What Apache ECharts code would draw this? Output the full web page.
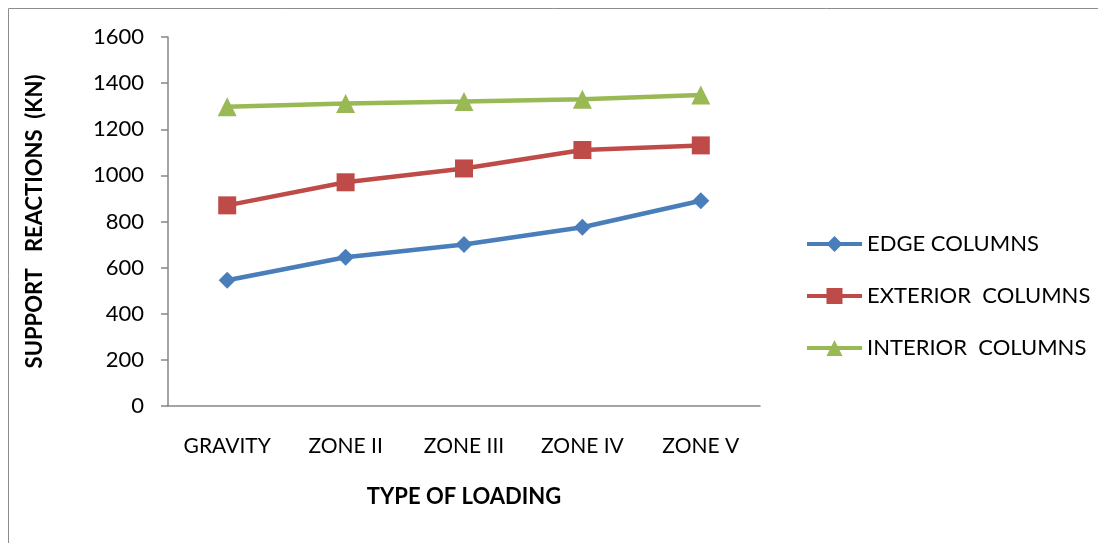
<!DOCTYPE html>
<html>
<head>
<meta charset="utf-8">
<script src="https://cdn.jsdelivr.net/npm/echarts@6/dist/echarts.min.js"></script>
<style>
  html, body { margin: 0; padding: 0; background: #fff; }
  #chart { width: 1098px; height: 543px; }
</style>
</head>
<body>
<div id="chart"></div>
<script>
var categories = ['GRAVITY', 'ZONE II', 'ZONE III', 'ZONE IV', 'ZONE V'];
var edgeCols = [545, 645, 700, 775, 890];
var exteriorCols = [870, 970, 1030, 1110, 1130];
var interiorCols = [1298, 1312, 1320, 1330, 1348];
var yTicks = { min: 0, max: 1600, interval: 200 };

var font = 'Lato, "Open Sans", sans-serif';
var chart = echarts.init(document.getElementById('chart'));

chart.setOption({
    animation: false,
    textStyle: { fontFamily: font },
    graphic: [{
        type: 'rect',
        shape: { x: 8.5, y: 8.5, width: 1120, height: 600 },
        style: { fill: 'none', stroke: '#8c8c8c', lineWidth: 1 },
        silent: true
    }],
    grid: { left: 168, top: 37, right: 338, bottom: 137 },
    legend: {
        orient: 'vertical',
        left: 805,
        top: 233,
        padding: 0,
        itemWidth: 55,
        itemHeight: 20,
        itemGap: 30,
        lineStyle: { width: 4 },
        textStyle: { fontSize: 22, color: '#000', fontFamily: font },
        data: ['EDGE COLUMNS', 'EXTERIOR  COLUMNS', 'INTERIOR  COLUMNS']
    },
    xAxis: {
        type: 'category',
        data: categories,
        boundaryGap: true,
        name: 'TYPE OF LOADING',
        nameLocation: 'middle',
        nameGap: 80,
        nameTextStyle: { fontSize: 22, fontWeight: 'bold', color: '#000' },
        axisLine: { lineStyle: { color: '#868686', width: 1.5 } },
        axisTick: { show: false },
        axisLabel: { fontSize: 21, color: '#000', margin: 30, interval: 0 }
    },
    yAxis: {
        type: 'value',
        min: yTicks.min,
        max: yTicks.max,
        interval: yTicks.interval,
        name: 'SUPPORT   REACTIONS  (KN)',
        nameLocation: 'middle',
        nameGap: 122,
        nameTextStyle: { fontSize: 22, fontWeight: 'bold', color: '#000' },
        axisLine: { show: true, lineStyle: { color: '#868686', width: 1.5 } },
        axisTick: { show: true, length: 7, lineStyle: { color: '#868686', width: 1.5 } },
        splitLine: { show: false },
        axisLabel: { fontSize: 22, color: '#000', margin: 24, formatter: function (v) { return String(v); } }
    },
    series: [
        {
            name: 'EDGE COLUMNS',
            type: 'line',
            data: edgeCols,
            color: '#4a7ebb',
            symbol: 'diamond',
            symbolSize: 17,
            lineStyle: { width: 4.5 }
        },
        {
            name: 'EXTERIOR  COLUMNS',
            type: 'line',
            data: exteriorCols,
            color: '#be4b48',
            symbol: 'rect',
            symbolSize: 18,
            lineStyle: { width: 4.5 }
        },
        {
            name: 'INTERIOR  COLUMNS',
            type: 'line',
            data: interiorCols,
            color: '#98b954',
            symbol: 'triangle',
            symbolSize: 19,
            lineStyle: { width: 4.5 }
        }
    ]
});
</script>
</body>
</html>
